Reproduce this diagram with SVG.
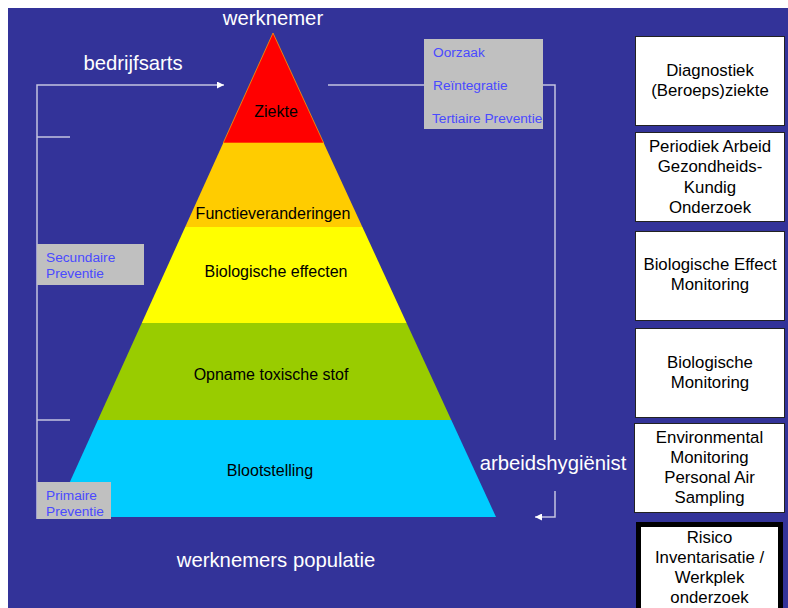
<svg xmlns="http://www.w3.org/2000/svg" width="788" height="608" viewBox="0 0 788 608">
<style>
text{font-family:"Liberation Sans",Arial,sans-serif}
.lbl{fill:#ffffff;font-size:20.3px}
.band{fill:#000000;font-size:16px;text-anchor:middle}
.gray{fill:#c0c0c0}
.blue{fill:#4a4aff;font-size:13.7px}
.box{fill:#ffffff;stroke:#222222;stroke-width:1}
.bt{fill:#000000;font-size:16.8px;text-anchor:middle}
.ln{fill:none;stroke:#c4c4e0;stroke-width:1.5}
</style>
<defs>
<marker id="ah" viewBox="0 0 10 10" refX="10" refY="5" markerWidth="7" markerHeight="7" markerUnits="userSpaceOnUse" orient="auto">
<path d="M0,0 L10,5 L0,10 Z" fill="#ffffff"/>
</marker>
</defs>
<rect x="0" y="0" width="788" height="608" fill="#ffffff"/>
<rect x="8" y="8" width="780" height="600" fill="#333399"/>

<g id="connectors">
<path class="ln" d="M37,519 L37,85 L224,85" marker-end="url(#ah)"/>
<path class="ln" d="M37,137 L70,137"/>
<path class="ln" d="M37,420 L70,420"/>
<path class="ln" d="M328,85 L555,85 L555,440"/>
<path class="ln" d="M555,491 L555,517 L535,517" marker-end="url(#ah)"/>
</g>

<g id="pyramid">
<g id="band-ziekte">
<polygon points="273,33 323.7,143 223.2,143" fill="#ff0000" stroke="#ff9900" stroke-width="0.8"/>
<text class="band" x="276" y="117">Ziekte</text>
</g>
<g id="band-functie">
<polygon points="223.2,143 323.7,143 362.4,227 185.2,227" fill="#ffcc00"/>
<text class="band" x="273" y="219">Functieveranderingen</text>
</g>
<g id="band-bio">
<polygon points="185.2,227 362.4,227 406.6,323 141.8,323" fill="#ffff00"/>
<text class="band" x="276" y="277">Biologische effecten</text>
</g>
<g id="band-opname">
<polygon points="141.8,323 406.6,323 451.3,420 97.9,420" fill="#99cc00"/>
<text class="band" x="271" y="380">Opname toxische stof</text>
</g>
<g id="band-bloot">
<polygon points="97.9,420 451.3,420 496,517 54,517" fill="#00ccff"/>
<text class="band" x="270" y="476">Blootstelling</text>
</g>
</g>

<g id="labels">
<text class="lbl" x="273" y="25" text-anchor="middle">werknemer</text>
<text class="lbl" x="133" y="70" text-anchor="middle">bedrijfsarts</text>
<text class="lbl" x="553" y="470" text-anchor="middle">arbeidshygiënist</text>
<text class="lbl" x="276" y="567" text-anchor="middle">werknemers populatie</text>
</g>

<g id="tertiair">
<rect class="gray" x="424" y="39" width="119" height="90"/>
<text class="blue" x="433" y="57">Oorzaak</text>
<text class="blue" x="433" y="90">Reïntegratie</text>
<text class="blue" x="432" y="123">Tertiaire Preventie</text>
</g>

<g id="secundair">
<rect class="gray" x="37" y="244" width="107" height="41"/>
<text class="blue" x="46" y="262">Secundaire</text>
<text class="blue" x="46" y="278">Preventie</text>
</g>

<g id="primair">
<rect class="gray" x="37" y="482" width="74" height="37"/>
<text class="blue" x="46" y="500">Primaire</text>
<text class="blue" x="46" y="516">Preventie</text>
</g>

<g id="box-diagnostiek">
<rect class="box" x="635.5" y="36.5" width="149" height="89"/>
<text class="bt" x="710" y="75.5">Diagnostiek</text>
<text class="bt" x="710" y="95.5">(Beroeps)ziekte</text>
</g>
<g id="box-pago">
<rect class="box" x="635.5" y="132.5" width="149" height="89"/>
<text class="bt" x="710" y="152">Periodiek Arbeid</text>
<text class="bt" x="710" y="172.3">Gezondheids-</text>
<text class="bt" x="710" y="192.6">Kundig</text>
<text class="bt" x="710" y="213">Onderzoek</text>
</g>
<g id="box-bem">
<rect class="box" x="635.5" y="231.5" width="149" height="89"/>
<text class="bt" x="710" y="270">Biologische Effect</text>
<text class="bt" x="710" y="290">Monitoring</text>
</g>
<g id="box-bm">
<rect class="box" x="635.5" y="328.5" width="149" height="89"/>
<text class="bt" x="710" y="368">Biologische</text>
<text class="bt" x="710" y="388">Monitoring</text>
</g>
<g id="box-env">
<rect class="box" x="634.5" y="423.5" width="150" height="89"/>
<text class="bt" x="709.5" y="442.5">Environmental</text>
<text class="bt" x="709.5" y="462.5">Monitoring</text>
<text class="bt" x="709.5" y="482.5">Personal Air</text>
<text class="bt" x="709.5" y="502.5">Sampling</text>
</g>
<g id="box-ri">
<rect x="638.5" y="524.5" width="142" height="92" fill="#ffffff" stroke="#000000" stroke-width="5"/>
<text class="bt" x="709.5" y="543">Risico</text>
<text class="bt" x="709.5" y="563">Inventarisatie /</text>
<text class="bt" x="709.5" y="583">Werkplek</text>
<text class="bt" x="709.5" y="603">onderzoek</text>
</g>
</svg>
